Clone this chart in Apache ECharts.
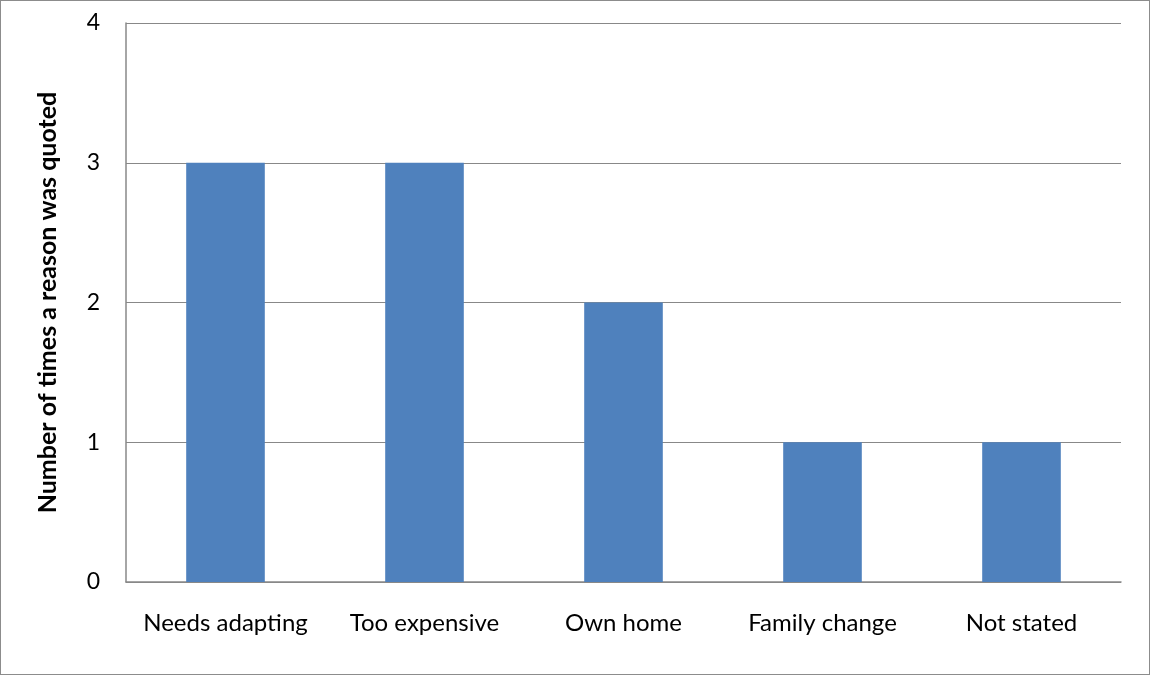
<!DOCTYPE html>
<html>
<head>
<meta charset="utf-8">
<script src="https://cdn.jsdelivr.net/npm/echarts@6/dist/echarts.min.js"></script>
<style>
html,body{margin:0;padding:0;background:#fff;}
#wrap{position:absolute;left:0;top:0;width:1148px;height:673px;border:1px solid #8c8c8c;}
#chart{width:1148px;height:673px;}
</style>
</head>
<body>
<div id="wrap"><div id="chart"></div></div>
<script>
const categories = ["Needs adapting", "Too expensive", "Own home", "Family change", "Not stated"];
const counts = [3, 3, 2, 1, 1];
const yTicks = [0, 1, 2, 3, 4];
const yTitle = "Number of times a reason was quoted";

const chart = echarts.init(document.getElementById('chart'), null, {renderer: 'canvas'});
chart.setOption({
  animation: false,
  grid: {left: 125, right: 28, top: 22, bottom: 92, containLabel: false},
  xAxis: {
    type: 'category',
    data: categories,
    axisLine: {show: true, lineStyle: {color: '#888888', width: 1.5}},
    axisTick: {show: false},
    axisLabel: {interval: 0, hideOverlap: false, color: '#000', fontFamily: 'Lato, "Open Sans", sans-serif', fontSize: 24, margin: 29}
  },
  yAxis: {
    type: 'value',
    min: yTicks[0],
    max: yTicks[yTicks.length - 1],
    interval: 1,
    name: yTitle,
    nameLocation: 'middle',
    nameGap: 66,
    nameRotate: 90,
    nameTextStyle: {color: '#000', fontFamily: 'Lato, "Open Sans", sans-serif', fontSize: 25, fontWeight: 'bold'},
    axisLine: {show: true, lineStyle: {color: '#888888', width: 1.5}},
    axisTick: {show: false},
    axisLabel: {color: '#000', fontFamily: 'Lato, "Open Sans", sans-serif', fontSize: 23, margin: 26},
    splitLine: {show: true, lineStyle: {color: '#888888', width: 1.2}}
  },
  series: [{
    type: 'bar',
    data: counts,
    barWidth: '39.5%',
    itemStyle: {color: '#4F81BD'}
  }]
});
</script>
</body>
</html>
